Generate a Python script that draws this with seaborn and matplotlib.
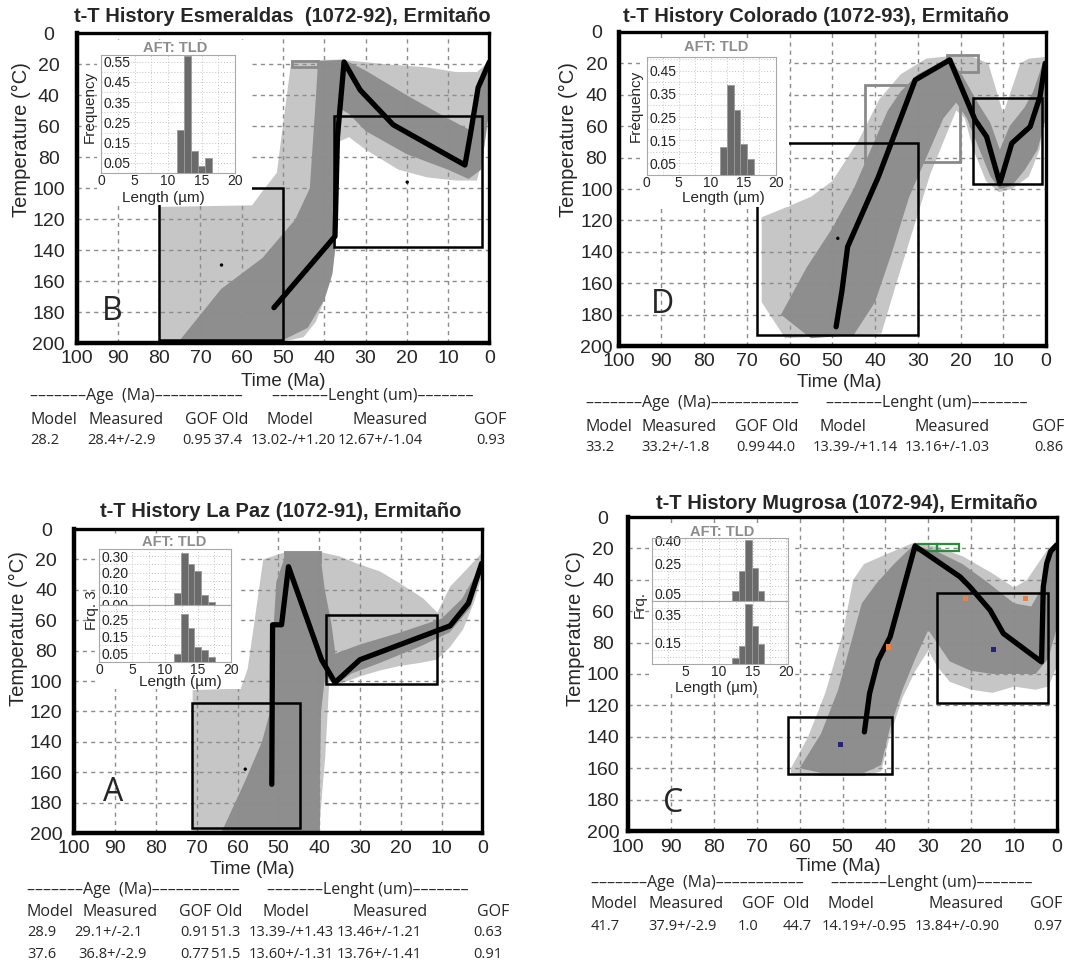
import matplotlib
matplotlib.use("Agg")
import matplotlib.pyplot as plt
from matplotlib.patches import Rectangle
import numpy as np
import seaborn as sns

W, H = 1070, 968

# ---------------- B: Esmeraldas (1072-92) ----------------
B_best_t = [52.2, 37.4, 36.8, 35.2, 31.3, 23.3, 5.9, 4.7, 2.7, 0.0]
B_best_T = [177, 131, 67, 18.5, 36.6, 59, 85, 67, 35, 18.5]
B_acc_t = [80, 57.5, 55, 51.5, 48, 47.8, 36, 25, 15, 8, 3, 0, 0, 1.5, 3, 8, 15, 22, 30, 34, 36.5, 37.3,
           38.5, 40, 42, 45, 50, 80]
B_acc_T = [112, 111, 102, 90, 18, 17.5, 17, 20, 22, 25, 25, 18, 40, 80, 95, 95, 93, 88, 75, 67, 70, 140,
           160, 172, 186, 196, 199, 199]
B_good_t = [75, 65, 55, 47, 43.5, 42, 41.5, 35.2, 30, 20, 10, 5, 3, 1, 0, 0, 2, 5, 10, 20, 30, 34, 36.5,
            37.2, 38, 40, 44, 50, 60]
B_good_T = [198, 165, 145, 120, 100, 40, 18, 17, 24, 40, 55, 62, 45, 25, 18, 50, 88, 94, 88, 78, 63, 52, 48,
            135, 155, 172, 190, 198, 198]
B_boxes = [(80, 50, 100, 198), (37.6, 1.8, 53.3, 137.8)]
B_grey_boxes = [(47.8, 41.5, 17.8, 21.5)]
B_dots_t, B_dots_T = [64.9, 19.9], [149.5, 96]
B_hist_left = [11.3, 12.35, 13.4, 14.45, 15.5]
B_hist_freq = [0.21, 0.58, 0.11, 0.035, 0.075]
B_title = "t-T History Esmeraldas  (1072-92), Ermitaño"
B_table = [["Model", "Measured", "GOF", "Old", "Model", "Measured", "GOF"],
           ["28.2", "28.4+/-2.9", "0.95", "37.4", "13.02-/+1.20", "12.67+/-1.04", "0.93"]]

# ---------------- D: Colorado (1072-93) ----------------
D_best_t = [49.1, 47.7, 46.4, 39.2, 30.6, 22.5, 16.6, 13.9, 10.8, 8.0, 3.7, 1.4, 0.2]
D_best_T = [187.7, 164.3, 136.7, 92.2, 30.6, 17.8, 56, 66.7, 96.4, 70.9, 60.3, 41.2, 20]
D_acc_t = [61, 66.5, 66.5, 60.2, 55, 50, 44, 39, 34, 28, 22.5, 17, 13.5, 10, 6, 4, 0, 0, 1.5, 4, 8, 11,
           14, 17, 19, 21, 24, 27, 31, 35, 38.5]
D_acc_T = [195, 172, 118, 111, 105, 95, 70, 43, 27, 17, 15.5, 16, 20, 52, 20, 17, 16, 45, 75, 92, 100, 102,
           95, 75, 55, 50, 70, 90, 125, 160, 192]
D_good_t = [62, 56, 50, 45, 41, 37, 34, 30, 25, 22.5, 19.5, 16, 13, 10.8, 8.5, 5, 3, 1, 0, 0, 2, 5, 8,
            10.8, 13, 16, 18.5, 21, 24, 28, 32, 36, 40, 45, 55]
D_good_T = [180, 150, 125, 100, 75, 50, 38, 27, 20, 17, 28, 45, 58, 75, 60, 48, 38, 22, 18, 55, 75, 88, 98,
            100, 92, 72, 55, 45, 55, 80, 105, 140, 172, 193, 195]
D_boxes = [(67.7, 29.9, 70.5, 193), (17.1, 0.9, 41.8, 96.8)]
D_grey_boxes = [(42.3, 20.1, 33.8, 82.6), (23.2, 15.8, 14.6, 25.3)]
D_dots_t, D_dots_T = [48.7], [131.4]
D_hist_left = [11.4, 12.44, 13.48, 14.52, 15.56]
D_hist_freq = [0.12, 0.39, 0.28, 0.135, 0.07]
D_title = "t-T History Colorado (1072-93), Ermitaño"
D_table = [["Model", "Measured", "GOF", "Old", "Model", "Measured", "GOF"],
           ["33.2", "33.2+/-1.8", "0.99", "44.0", "13.39-/+1.14", "13.16+/-1.03", "0.86"]]

# ---------------- A: La Paz (1072-91) ----------------
A_best_t = [51.6, 51.4, 49.2, 47.5, 39.4, 36.1, 30.0, 7.9, 3.4, 0.15]
A_best_T = [168, 63, 63, 24.8, 86, 101, 86, 63.7, 48.8, 22.6]
A_acc_t = [71, 59.2, 57.5, 55, 53.7, 48, 40, 35, 30.8, 25, 20.2, 14.5, 11, 7.9, 4, 0.2, 0, 0, 2, 4.7, 8,
           11.2, 15, 20, 25, 30, 33, 36.1, 37.5, 38, 38.5, 39.3, 40, 71]
A_acc_T = [106, 105, 92, 45, 20, 15, 15, 18, 22.6, 28, 35.7, 45.6, 55, 38, 27, 16, 22, 30, 48, 66, 78,
           86, 88, 90, 93, 97, 100, 103, 100, 125, 150, 175, 200, 200]
A_good_t = [64, 58, 54, 52, 51.5, 50.5, 48, 39.8, 38.6, 37, 36, 30, 20, 10, 5, 2, 0, 0, 3, 8, 15, 25, 32,
            36.1, 38.5, 39.5, 39.8, 39.8]
A_good_T = [200, 165, 140, 120, 80, 35, 15, 15, 40, 62, 82, 76, 68, 59, 46, 32, 21, 27, 52, 68, 77, 88, 95,
            103, 96, 120, 160, 200]
A_boxes = [(71.1, 44.7, 114.4, 197), (38.3, 11.0, 56.5, 101.9)]
A_grey_boxes = [(48.4, 39.8, 15, 21.6)]
A_dots_t, A_dots_T = [58.1], [158]
A_hist_left = [11.35, 12.38, 13.41, 14.44, 15.47, 16.5]
A_hist_freq_1 = [0.072, 0.32, 0.25, 0.21, 0.06, 0.017]
A_hist_freq_2 = [0.044, 0.28, 0.2, 0.09, 0.07, 0.03]
A_title = "t-T History La Paz (1072-91), Ermitaño"
A_table = [["Model", "Measured", "GOF", "Old", "Model", "Measured", "GOF"],
           ["28.9", "29.1+/-2.1", "0.91", "51.3", "13.39-/+1.43", "13.46+/-1.21", "0.63"],
           ["37.6", "36.8+/-2.9", "0.77", "51.5", "13.60+/-1.31", "13.76+/-1.41", "0.91"]]

# ---------------- C: Mugrosa (1072-94) ----------------
C_best_t = [44.9, 43.7, 41.7, 38.9, 33.1, 22.6, 20.3, 15.6, 12.5, 3.6, 3.2, 2.4, 1.5, 0.1]
C_best_T = [136.9, 112.5, 91.3, 76.4, 18.5, 38.1, 44.5, 59.3, 74.2, 92.3, 44.5, 29.6, 22, 17.8]
C_acc_t = [62, 58, 54, 50, 47.5, 45, 40, 33.5, 28, 22, 15, 10, 7, 4, 2, 0, 0, 2, 5, 10, 15, 20, 25, 28,
           30, 33, 36, 39, 41, 45, 55, 62]
C_acc_T = [160, 140, 112, 75, 40, 30, 24, 16.5, 19, 25, 36, 45, 40, 28, 20, 16, 95, 108, 110, 108, 112,
           110, 105, 95, 85, 98, 115, 140, 162, 165, 165, 163]
C_good_t = [60, 55, 51, 48, 45.5, 42, 38, 33.5, 28, 22, 16, 10, 6, 3.5, 1.5, 0, 0, 2, 5, 10, 15, 20, 25,
            28, 30, 33, 36, 39, 41, 45, 55]
C_good_T = [160, 138, 110, 80, 55, 42, 30, 18, 22, 30, 42, 55, 57, 45, 25, 18, 70, 90, 100, 100, 100, 98,
            92, 80, 72, 90, 110, 135, 158, 163, 163]
C_boxes = [(62.6, 38.4, 127.4, 163.5), (28.0, 2.0, 48.7, 118.5)]
C_green_boxes = [(33.1, 27.9, 17.2, 21.7), (27.9, 22.8, 17.2, 21.7)]
C_orange_t, C_orange_T = [21.4, 7.3, 39.3], [51.9, 51.9, 82.8]
C_blue_t, C_blue_T = [14.8, 50.5], [84.4, 145]
C_hist_left = [11.95, 12.91, 13.87, 14.83, 15.79]
C_hist_freq_1 = [0.066, 0.2, 0.41, 0.22, 0.066]
C_hist_freq_2 = [0.04, 0.13, 0.43, 0.27, 0.14]
C_title = "t-T History Mugrosa (1072-94), Ermitaño"
C_table = [["Model", "Measured", "GOF", "Old", "Model", "Measured", "GOF"],
           ["41.7", "37.9+/-2.9", "1.0", "44.7", "14.19+/-0.95", "13.84+/-0.90", "0.97"]]

DASH_AGE = "–" * 7 + "Age  (Ma)" + "–" * 11
DASH_LEN = "–" * 7 + "Lenght (um)" + "–" * 7

LIGHT = "#c6c6c6"
DARK = "#8e8e8e"
TABLE_FONT = ["Open Sans", "DejaVu Sans"]
HEAD_SIZE = 11.5
VALUE_SIZE = 10.5

sns.set_theme(style="white")
plt.rcParams["font.family"] = ["Liberation Sans", "DejaVu Sans"]

fig = plt.figure(figsize=(W / 100, H / 100), dpi=100)


def box_px(x0, y0, x1, y1):
    return [x0 / W, 1 - y1 / H, (x1 - x0) / W, (y1 - y0) / H]


def ftext(x, y, s, **kw):
    fig.text(x / W, 1 - y / H, s, **kw)


def rect(ax, t_old, t_young, T_top, T_bot, **kw):
    ax.add_patch(Rectangle((t_young, T_top), t_old - t_young, T_bot - T_top, fill=False, **kw))


def main_panel(lay, best_t, best_T, acc_t, acc_T, good_t, good_T, boxes, grey_boxes):
    ax = fig.add_axes(box_px(*lay["axes"]))
    ax.fill(acc_t, acc_T, color=LIGHT, lw=0, zorder=1)
    for b in grey_boxes:
        rect(ax, *b, ec="#8a8a8a", lw=2, zorder=1.05)
    ax.fill(good_t, good_T, color=DARK, lw=0, zorder=1.1)
    for b in boxes:
        rect(ax, *b, ec="black", lw=1.8, zorder=4)
    # white area behind the inset and its labels
    m = lay["mask"]
    ax.add_patch(Rectangle((m[0], m[2]), m[1] - m[0], m[3] - m[2], fc="white", ec="none", zorder=4.5))
    sns.lineplot(x=best_t, y=best_T, sort=False, estimator=None, color="black", linewidth=3.8,
                 ax=ax, zorder=6)
    ax.set_xlim(100, 0)
    ax.set_ylim(200, 0)
    ax.set_xticks(range(0, 101, 10))
    ax.set_yticks(range(0, 201, 20))
    ax.set_xlabel("")
    ax.set_ylabel("")
    ax.grid(True, color="#8c8c8c", ls=(0, (3, 3)), lw=1.0)
    ax.set_axisbelow(False)
    ax.tick_params(axis="x", labelsize=14, length=0, pad=lay["xpad"])
    ax.tick_params(axis="y", labelsize=14, length=0, pad=lay["yoff"] * 0.72)
    for lab in ax.get_yticklabels():
        lab.set_horizontalalignment("center")
    for name, sp in ax.spines.items():
        sp.set_color("black")
        sp.set_linewidth(3.2 if name in ("left", "bottom") else 2.4)
        sp.set_zorder(8)
    ftext(*lay["title"], lay["title_s"], ha="center", va="center", fontsize=14.5, fontweight="bold")
    ftext(*lay["ylabel"], "Temperature (°C)", ha="center", va="center", rotation=90, fontsize=14.5)
    ftext(*lay["xlabel"], "Time (Ma)", ha="center", va="center", fontsize=13.5)
    ftext(*lay["letter"], lay["letter_s"], ha="center", va="center", fontsize=23, family=TABLE_FONT)
    return ax


def inset(rect_px, left, freq, ylim, yticks, xlim=(0, 20), xticks=(0, 5, 10, 15, 20), xlabels=True):
    ax = fig.add_axes(box_px(*rect_px))
    ax.set_facecolor("white")
    width = left[1] - left[0]
    edges = list(left) + [left[-1] + width]
    centers = [l + width / 2 for l in left]
    sns.histplot(x=centers, weights=freq, bins=edges, color="#6a6a6a", edgecolor="#9a9a9a",
                 linewidth=0.6, alpha=1, ax=ax, zorder=3)
    ax.set_xlim(*xlim)
    ax.set_ylim(*ylim)
    ax.set_xticks(list(xticks))
    ax.set_yticks(list(yticks))
    ax.set_yticklabels([f"{v:.2f}" for v in yticks])
    ax.set_xticks(np.arange(0, 20.1, 2.5), minor=True)
    ax.set_yticks(np.arange(0, ylim[1], 0.05), minor=True)
    ax.grid(True, which="both", color="#c4c4c4", ls=(0, (1, 2)), lw=0.7)
    ax.set_axisbelow(True)
    ax.set_xlabel("")
    ax.set_ylabel("")
    ax.tick_params(axis="y", which="both", length=0, labelsize=10, pad=-2, colors="#222222")
    ax.tick_params(axis="x", which="both", length=0, labelsize=10, pad=0.5)
    for lab in ax.get_yticklabels():
        lab.set_horizontalalignment("left")
    if not xlabels:
        ax.set_xticklabels([])
    for sp in ax.spines.values():
        sp.set_color("#a8a8a8")
        sp.set_linewidth(0.8)
    return ax


def inset_labels(lay, ylabel):
    ftext(*lay["in_title"], "AFT: TLD", ha="center", va="center", fontsize=10.5, fontweight="bold",
          color="#8c8c8c")
    ftext(*lay["in_xlabel"], "Length (µm)", ha="center", va="center", fontsize=11)
    ftext(*lay["in_ylabel"], ylabel, ha="center", va="center", rotation=90, fontsize=11)


def table(lay, rows):
    ys = lay["rows_y"]
    ftext(lay["dash_x"][0], ys[0], DASH_AGE, ha="left", va="center", fontsize=HEAD_SIZE, family=TABLE_FONT)
    ftext(lay["dash_x"][1], ys[0], DASH_LEN, ha="left", va="center", fontsize=HEAD_SIZE, family=TABLE_FONT)
    for i, row in enumerate(rows):
        xs = lay["head_x"] if i == 0 else lay["val_x"][i - 1]
        size = HEAD_SIZE if i == 0 else VALUE_SIZE
        for x, s in zip(xs, row):
            ftext(x, ys[i + 1], s, ha="left", va="center", fontsize=size, family=TABLE_FONT)


# ---------- layout (pixel positions in the 1070x968 picture) ----------
LAY_B = dict(axes=(76.7, 33.3, 489.3, 343.3), title=(282, 17), title_s=B_title, ylabel=(21, 140),
             xlabel=(283, 381), letter=(112, 312), letter_s="B", yoff=28, xpad=5,
             mask=(57.5, 95, 4, 111), in_rect=(101, 55, 235, 173), in_title=(175, 48),
             in_xlabel=(163, 198), in_ylabel=(90, 107),
             rows_y=(396, 420, 441), dash_x=(30, 272),
             head_x=(30, 88, 185, 222, 267, 353, 474), val_x=[(30, 87, 182, 213, 251, 338, 476)])
LAY_D = dict(axes=(618.5, 31.9, 1046, 346.1), title=(815.7, 16.7), title_s=D_title, ylabel=(568.5, 139.5),
             xlabel=(839, 382.3), letter=(662, 304), letter_s="D", yoff=22, xpad=5,
             mask=(60.2, 95, 4, 111.3), in_rect=(646.5, 56.7, 775.6, 175), in_title=(716, 46.7),
             in_xlabel=(723, 198), in_ylabel=(635.5, 106),
             rows_y=(403.3, 426.7, 447.3), dash_x=(585.6, 825.6),
             head_x=(585.6, 641.4, 735, 772, 819.9, 914.2, 1031.8),
             val_x=[(585.6, 641.4, 736, 767, 813.1, 904.4, 1034.2)])
LAY_A = dict(axes=(74.3, 529, 482.3, 833), title=(281, 511.7), title_s=A_title, ylabel=(18.5, 629),
             xlabel=(252, 870), letter=(113, 792.5), letter_s="A", yoff=28, xpad=5,
             mask=(59.2, 95, 4, 105), in_rect=(99, 549, 231, 605), in_rect2=(99, 605, 231, 662),
             in_title=(174, 542), in_xlabel=(180, 682), in_ylabel=(92, 610),
             rows_y=(890, 912, 933, 955), dash_x=(27, 267),
             head_x=(27, 83, 179, 216, 262, 353, 477),
             val_x=[(27, 74, 180, 211, 249, 337, 473), (27, 78, 180, 211, 249, 337, 473)])
LAY_C = dict(axes=(628, 517, 1057, 831), title=(847, 503.3), title_s=C_title, ylabel=(575, 628.3),
             xlabel=(838.3, 866.7), letter=(673, 804), letter_s="C", yoff=25, xpad=6,
             mask=(61, 95, 4, 113), in_rect=(651.5, 538.3, 788.4, 601), in_rect2=(651.5, 601, 788.4, 664),
             in_title=(722, 531.7), in_xlabel=(716, 688), in_ylabel=(640, 605),
             rows_y=(883.3, 904, 926.7), dash_x=(590.7, 831.4),
             head_x=(590.7, 648.8, 741.8, 782.7, 827.3, 928, 1030),
             val_x=[(590.7, 648.8, 737.7, 782.7, 821.6, 914.2, 1032.8)])

# ---------- panel B ----------
ax = main_panel(LAY_B, B_best_t, B_best_T, B_acc_t, B_acc_T, B_good_t, B_good_T, B_boxes, B_grey_boxes)
sns.scatterplot(x=B_dots_t, y=B_dots_T, color="black", s=6, edgecolor="none", ax=ax, zorder=7)
inset(LAY_B["in_rect"], B_hist_left, B_hist_freq, (0, 0.583), (0.05, 0.15, 0.25, 0.35, 0.45, 0.55))
inset_labels(LAY_B, "Frequency")
table(LAY_B, B_table)

# ---------- panel D ----------
ax = main_panel(LAY_D, D_best_t, D_best_T, D_acc_t, D_acc_T, D_good_t, D_good_T, D_boxes, D_grey_boxes)
sns.scatterplot(x=D_dots_t, y=D_dots_T, color="black", s=6, edgecolor="none", ax=ax, zorder=7)
inset(LAY_D["in_rect"], D_hist_left, D_hist_freq, (0, 0.51), (0.05, 0.15, 0.25, 0.35, 0.45))
inset_labels(LAY_D, "Frequency")
table(LAY_D, D_table)

# ---------- panel A ----------
ax = main_panel(LAY_A, A_best_t, A_best_T, A_acc_t, A_acc_T, A_good_t, A_good_T, A_boxes, A_grey_boxes)
sns.scatterplot(x=A_dots_t, y=A_dots_T, color="black", s=6, edgecolor="none", ax=ax, zorder=7)
inset(LAY_A["in_rect"], A_hist_left, A_hist_freq_1, (0, 0.345), (0.0, 0.1, 0.2, 0.3), xlabels=False)
inset(LAY_A["in_rect2"], A_hist_left, A_hist_freq_2, (0, 0.334), (0.05, 0.15, 0.25))
inset_labels(LAY_A, "Frq. 3")
table(LAY_A, A_table)

# ---------- panel C ----------
ax = main_panel(LAY_C, C_best_t, C_best_T, C_acc_t, C_acc_T, C_good_t, C_good_T, C_boxes, [])
for b in C_green_boxes:
    rect(ax, *b, ec="#2e8b3a", lw=1.6, zorder=5)
sns.scatterplot(x=C_orange_t, y=C_orange_T, color="#f07f3c", s=14, marker="s", edgecolor="none",
                ax=ax, zorder=7)
sns.scatterplot(x=C_blue_t, y=C_blue_T, color="#23237a", s=10, marker="s", edgecolor="none",
                ax=ax, zorder=7)
inset(LAY_C["in_rect"], C_hist_left, C_hist_freq_1, (0, 0.418), (0.05, 0.25, 0.40),
      xlim=(0.9, 20.3), xticks=(5, 10, 15, 20), xlabels=False)
inset(LAY_C["in_rect2"], C_hist_left, C_hist_freq_2, (0.02, 0.45), (0.15, 0.35),
      xlim=(0.9, 20.3), xticks=(5, 10, 15, 20))
inset_labels(LAY_C, "Frq.")
table(LAY_C, C_table)

fig.savefig("out.png", dpi=100)
